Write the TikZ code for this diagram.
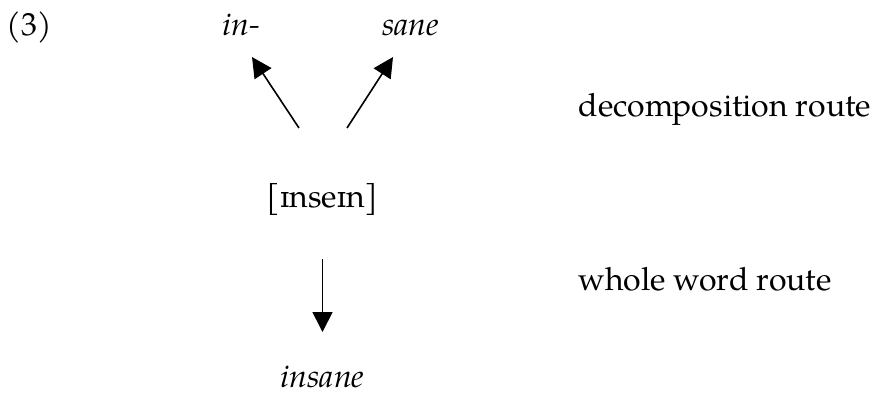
\documentclass[tikz,border=0pt]{standalone}
\usepackage{fontspec}
\setmainfont{TeX Gyre Pagella}
\newfontfamily\ipafont{DejaVu Serif}[Scale=MatchLowercase]
\usetikzlibrary{arrows.meta}
\begin{document}
\begin{tikzpicture}[x=0.375pt,y=-0.375pt,
    rute/.style={-{Triangle[length=7.5pt,width=7.5pt]},line width=0.6pt},
    teks/.style={anchor=base,inner sep=0pt,font=\fontsize{12pt}{14pt}\selectfont}]
    \useasboundingbox (0,0) rectangle (876,396);

    % Nomor contoh dan morfem
    \node[teks] (nomor) at (29.5,35) {(3)};
    \node[teks] (awalan) at (241.5,35) {\textit{in-}};
    \node[teks] (dasar) at (410.5,35) {\textit{sane}};

    % Bentuk fonetis
    \node[teks] (fonetis) at (322.5,207) {[{\ipafont ɪ}nse{\ipafont ɪ}n]};

    % Kata utuh
    \node[teks] (kata) at (322.5,387) {\textit{insane}};

    % Label rute
    \node[teks,anchor=base west] (rute1) at (578,116) {decomposition route};
    \node[teks,anchor=base west] (rute2) at (578,290) {whole word route};

    % Titik ujung panah
    \coordinate (kiri0) at (299,128);
    \coordinate (kiri1) at (252,57);
    \coordinate (kanan0) at (347,128);
    \coordinate (kanan1) at (393,57);
    \coordinate (bawah0) at (322.5,259);
    \coordinate (bawah1) at (322.5,332);

    % Gambar panah
    \draw[rute] (kiri0) -- (kiri1);
    \draw[rute] (kanan0) -- (kanan1);
    \draw[rute] (bawah0) -- (bawah1);

\end{tikzpicture}
\end{document}
